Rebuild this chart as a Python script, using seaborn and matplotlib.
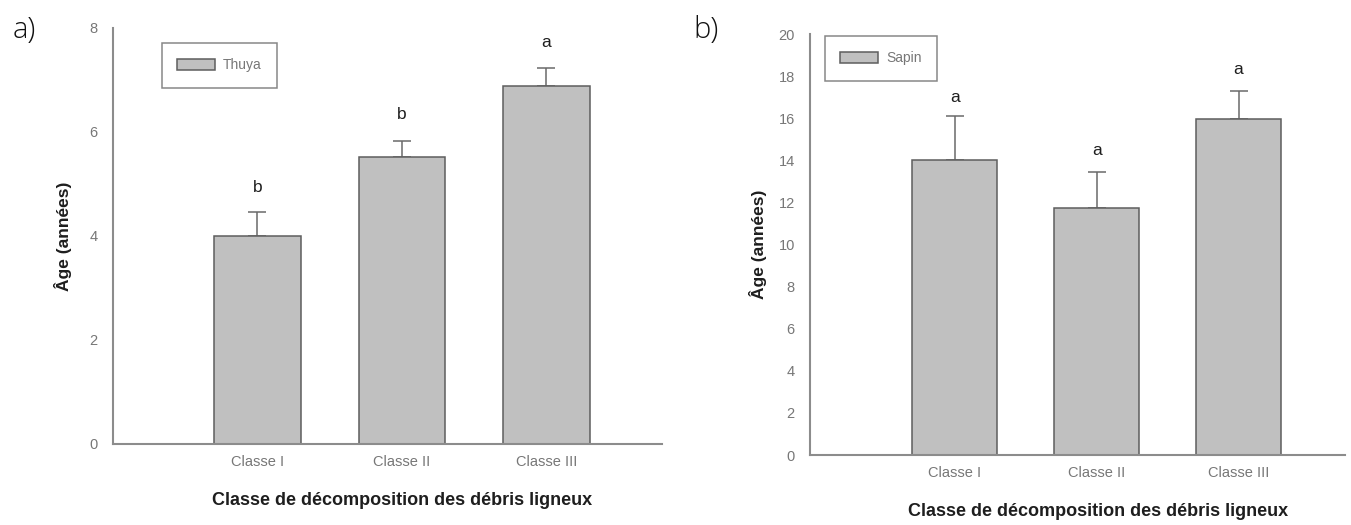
import matplotlib
matplotlib.use("Agg")
import matplotlib.pyplot as plt
from matplotlib.patches import Patch
import seaborn as sns
import pandas as pd

sns.set_style("white")
plt.rcParams["font.family"] = ["Liberation Sans", "DejaVu Sans"]

# Data
classes = ["Classe I", "Classe II", "Classe III"]
thuya_age = [4.0, 5.52, 6.89]
thuya_err = [0.46, 0.31, 0.34]
thuya_letters = ["b", "b", "a"]
sapin_age = [14.0, 11.75, 15.95]
sapin_err = [2.12, 1.68, 1.33]
sapin_letters = ["a", "a", "a"]

bar_fill = "#c0c0c0"
bar_edge = "#5e5e5e"
axis_gray = "#8c8c8c"
tick_gray = "#777777"
text_dark = "#1e1e1e"

fig = plt.figure(figsize=(13.51, 5.25), dpi=100)
ax_a = fig.add_axes([0.0836, 0.1543, 0.4064, 0.7924])
ax_b = fig.add_axes([0.5996, 0.1333, 0.3960, 0.8019])


def draw_panel(ax, ages, errs, letters, species, ymax, ystep, xlim,
               letter_pos, legend_anchor):
    df = pd.DataFrame({"classe": classes, "age": ages})
    sns.barplot(data=df, x="classe", y="age", ax=ax, color=bar_fill,
                saturation=1, width=0.6, edgecolor=bar_edge, linewidth=1.1,
                errorbar=None, zorder=2)
    # upper-only error bars
    ax.errorbar(range(len(ages)), ages, yerr=[[0] * len(errs), errs],
                fmt="none", ecolor="#6a6a6a", elinewidth=1.1, capsize=6.5,
                capthick=1.1, zorder=1)
    for i, (lab, y) in enumerate(zip(letters, letter_pos)):
        ax.text(i, y, lab, ha="center", va="center", fontsize=12.5,
                color=text_dark)

    ax.set_xlim(*xlim)
    ax.set_ylim(0, ymax)
    ax.set_yticks(range(0, ymax + 1, ystep))
    for side in ("top", "right"):
        ax.spines[side].set_visible(False)
    for side in ("left", "bottom"):
        ax.spines[side].set_color(axis_gray)
        ax.spines[side].set_linewidth(1.5)
    ax.tick_params(axis="both", direction="out", length=5, width=1.1,
                   color=axis_gray, labelcolor=tick_gray, labelsize=10.5)
    ax.tick_params(axis="y", pad=6)
    ax.tick_params(axis="x", pad=3)

    ax.set_ylabel("Âge (années)", fontsize=12.5, fontweight="bold",
                  color=text_dark)
    ax.set_xlabel("Classe de décomposition des débris ligneux", fontsize=13,
                  fontweight="bold", color=text_dark)

    handle = Patch(facecolor=bar_fill, edgecolor=bar_edge, linewidth=1.1)
    leg = ax.legend([handle], [species], loc="upper left",
                    bbox_to_anchor=legend_anchor, borderaxespad=0,
                    fontsize=10, frameon=True, fancybox=False,
                    handlelength=2.7, handleheight=0.9, handletextpad=0.6,
                    borderpad=1.1)
    leg.get_frame().set_edgecolor("#6a6a6a")
    leg.get_frame().set_linewidth(1.1)
    for t in leg.get_texts():
        t.set_color(tick_gray)


draw_panel(ax_a, thuya_age, thuya_err, thuya_letters, "Thuya", 8, 2,
           (-1.0, 2.8), [4.94, 6.33, 7.72], (0.089, 0.964))
ax_a.yaxis.set_label_coords(-0.075, 0.5)
ax_a.xaxis.set_label_coords(0.527, -0.115)

draw_panel(ax_b, sapin_age, sapin_err, sapin_letters, "Sapin", 20, 2,
           (-1.02, 2.75), [17.0, 14.45, 18.3], (0.028, 0.995))
ax_b.yaxis.set_label_coords(-0.080, 0.5)
ax_b.xaxis.set_label_coords(0.538, -0.114)

fig.text(0.0096, 0.943, "a)", fontsize=21, family=["Open Sans", "DejaVu Sans"],
         fontweight="light", color="#111111", va="center", ha="left")
fig.text(0.513, 0.943, "b)", fontsize=21, family=["Open Sans", "DejaVu Sans"],
         fontweight="light", color="#111111", va="center", ha="left")

fig.savefig("out.png", dpi=100)
